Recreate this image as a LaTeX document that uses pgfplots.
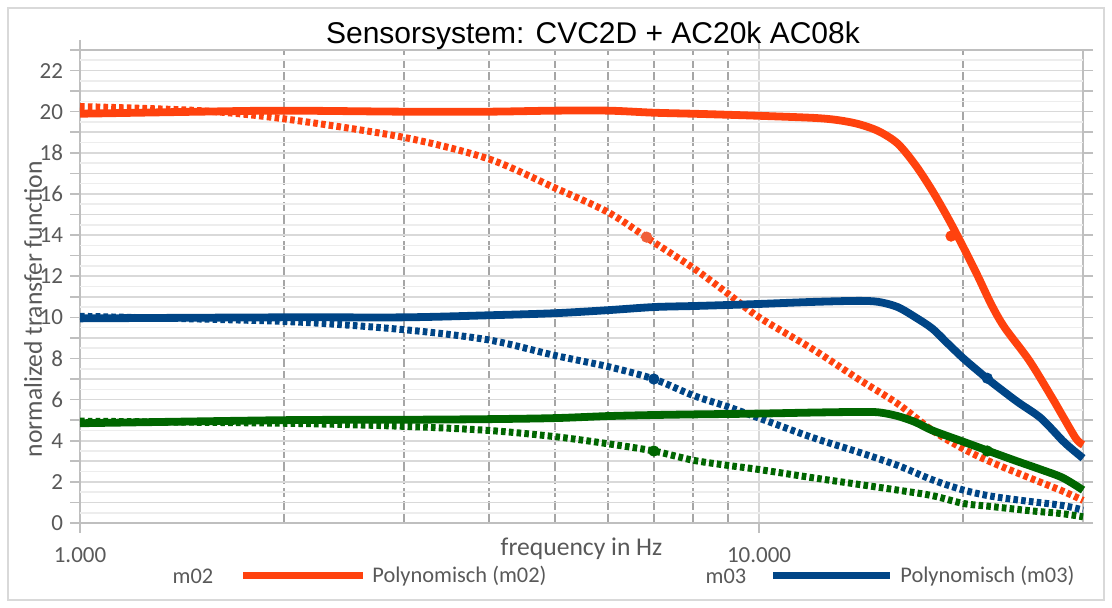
\documentclass[border=0pt]{standalone}
\usepackage{fontspec}
\setmainfont{Carlito}
\newfontfamily\titlefont{Liberation Sans}
\usepackage{pgfplots}
\pgfplotsset{compat=1.18}

\definecolor{corange}{HTML}{FF420E}
\definecolor{cdot}{HTML}{F0603A}
\definecolor{cblue}{HTML}{004586}
\definecolor{cgreen}{HTML}{006600}
\definecolor{gridmaj}{HTML}{D9D9D9}
\definecolor{gridmin}{HTML}{EDEDED}
\definecolor{gridx}{HTML}{A6A6A6}
\definecolor{axisgray}{HTML}{BFBFBF}
\definecolor{txtgray}{HTML}{595959}

\begin{document}
\begin{tikzpicture}
% page and outer frame (1 px = 0.5pt)
\path (0,0) rectangle (556pt,304pt);
\draw[gridmaj, line width=0.8pt] (4pt,4pt) rectangle (552pt,300pt);

\begin{axis}[
  at={(40pt,42.5pt)}, anchor=south west,
  scale only axis, width=501.5pt, height=236.5pt,
  xmode=log, xmin=1000, xmax=30000,
  ymin=0, ymax=23,
  xtick={1000,10000}, xticklabels={1.000,10.000},
  minor xtick={2000,3000,4000,5000,6000,7000,8000,9000,20000},
  ytick={0,1,...,23},
  yticklabels={0,,2,,4,,6,,8,,10,,12,,14,,16,,18,,20,,22,},
  extra y ticks={0.5,1.5,...,22.5}, extra y tick labels={},
  extra y tick style={grid=major, major grid style={draw=gridmin, line width=0.8pt}, major tick length=0pt},
  xmajorgrids, xminorgrids, ymajorgrids,
  major grid style={draw=gridmaj, line width=0.8pt},
  minor x grid style={draw=gridx, line width=1pt, dash pattern=on 4.5pt off 2pt},
  tick align=outside, major tick length=5pt, minor tick length=0pt,
  tick style={draw=axisgray, line width=0.8pt},
  axis line style={draw=axisgray, line width=0.8pt},
  tick label style={font=\fontsize{11.5}{13}\selectfont, text=txtgray},
  xticklabel style={yshift=-4pt},
  xlabel={frequency in Hz},
  xlabel style={at={(axis description cs:0.5,0)}, anchor=center, yshift=-13pt,
                font=\fontsize{12.8}{14}\selectfont, text=txtgray},
  ylabel={normalized transfer function},
  ylabel style={at={(axis description cs:0,0.452)}, anchor=center, yshift=23.5pt,
                font=\fontsize{12.8}{14}\selectfont, text=txtgray},
  clip=false,
]
% dotted series
\addplot[cgreen, line width=3.5pt, dash pattern=on 2.3pt off 1.6pt, smooth] coordinates {
  (1000,4.95) (2000,4.85) (3000,4.7) (4000,4.5) (5000,4.2) (6000,3.85) (7000,3.5)
  (8000,3.05) (9000,2.8) (10000,2.6) (12000,2.2) (14000,1.88) (16000,1.6) (18000,1.33)
  (20000,0.95) (22000,0.8) (25000,0.6) (28000,0.45) (30000,0.3)};
\addplot[cblue, line width=3.5pt, dash pattern=on 2.3pt off 1.6pt, smooth] coordinates {
  (1000,10.05) (2000,9.8) (3000,9.4) (4000,8.9) (5000,8.15) (6000,7.6) (7000,7.0)
  (8000,6.2) (9000,5.65) (10000,5.1) (12000,4.15) (14000,3.45) (16000,2.8) (18000,2.1)
  (20000,1.6) (22000,1.3) (25000,1.05) (28000,0.85) (30000,0.63)};
\addplot[corange, line width=3.5pt, dash pattern=on 2.3pt off 1.6pt, smooth] coordinates {
  (1000,20.25) (1500,20.05) (2000,19.65) (3000,18.75) (4000,17.7) (5000,16.3) (6000,15.1)
  (7000,13.65) (8000,12.4) (9000,11.15) (10000,10.0) (12000,8.45) (14000,7.0) (16000,5.8)
  (18000,4.5) (20000,3.6) (22000,2.95) (25000,2.2) (28000,1.55) (30000,1.1)};
% solid (trend) series
\addplot[cgreen, line width=3.9pt, smooth] coordinates {
  (1000,4.85) (2000,5.0) (3000,5.02) (4000,5.05) (5000,5.1) (6000,5.2) (7000,5.25)
  (8000,5.28) (10000,5.32) (12000,5.37) (14000,5.4) (15000,5.38) (16000,5.2) (17000,4.9)
  (18000,4.5) (20000,3.95) (22000,3.45) (24000,3.0) (26000,2.6) (28000,2.2) (30000,1.6)};
\addplot[cblue, line width=3.9pt, smooth] coordinates {
  (1000,9.95) (2000,10.0) (3000,10.0) (4000,10.1) (5000,10.2) (6000,10.35) (7000,10.5)
  (8000,10.55) (9000,10.6) (10000,10.65) (12000,10.75) (14000,10.8) (15000,10.75)
  (16000,10.5) (17000,10.0) (18000,9.45) (19000,8.7) (20000,8.0) (21000,7.4) (22000,6.85)
  (24000,5.9) (26000,5.1) (28000,4.0) (29000,3.55) (30000,3.15)};
\addplot[corange, line width=3.9pt, smooth] coordinates {
  (1000,19.9) (1500,20.0) (2000,20.05) (3000,20.0) (4000,20.0) (5000,20.05) (6000,20.05)
  (7000,19.95) (8000,19.9) (9000,19.85) (10000,19.8) (12000,19.7) (13000,19.6) (14000,19.4)
  (15000,19.05) (16000,18.45) (17000,17.4) (18000,16.15) (19000,14.8) (20000,13.4)
  (21000,12.0) (22000,10.6) (23000,9.5) (25000,7.9) (27000,6.1) (28000,5.2) (29300,4.1)
  (30000,3.8)};
% data points
\addplot[only marks, mark=*, mark size=2.6pt, color=cdot] coordinates {(6830,13.9)};
\addplot[only marks, mark=*, mark size=2.6pt, color=corange] coordinates {(19180,13.95)};
\addplot[only marks, mark=*, mark size=2.6pt, color=cblue] coordinates {(7000,7.0) (21680,7.04)};
\addplot[only marks, mark=*, mark size=2.6pt, color=cgreen] coordinates {(7000,3.5) (21680,3.5)};
\end{axis}

% title
\node[font=\titlefont\fontsize{15}{17}\selectfont, text=black] at (296.5pt,286pt)
  {Sensorsystem: CVC2D + AC20k AC08k};

% legend
\begin{scope}[every node/.style={font=\fontsize{11.2}{13}\selectfont, text=txtgray, inner sep=0pt}]
\node[anchor=center] at (96.5pt,16pt) {m02};
\draw[corange, line width=3.5pt] (121.5pt,16pt) -- (181.5pt,16pt);
\node[anchor=west] at (186pt,16pt) {Polynomisch (m02)};
\node[anchor=center] at (363pt,16pt) {m03};
\draw[cblue, line width=3.5pt] (386.5pt,16pt) -- (445pt,16pt);
\node[anchor=west] at (450pt,16pt) {Polynomisch (m03)};
\end{scope}
\end{tikzpicture}
\end{document}
